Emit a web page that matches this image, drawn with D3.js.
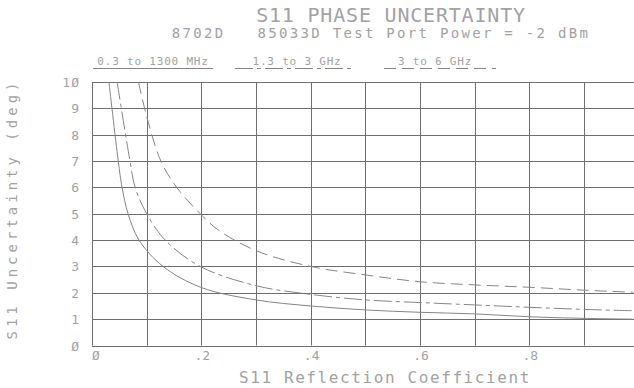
<!DOCTYPE html>
<html><head><meta charset="utf-8">
<script src="https://cdn.jsdelivr.net/npm/d3@7"></script>
<style>
html,body{margin:0;padding:0;background:#fff;}
svg{display:block;}
text{font-family:"DejaVu Sans Mono","Liberation Mono",monospace;fill:#a2a2a2;}
</style></head>
<body>
<svg id="c" width="634" height="388"></svg>
<script>
const title = "S11 PHASE UNCERTAINTY";
const subtitle = "8702D   85033D Test Port Power = -2 dBm";
const xLabel = "S11 Reflection Coefficient";
const yLabel = "S11 Uncertainty (deg)";
const seriesNames = ["0.3 to 1300 MHz", "1.3 to 3 GHz", "3 to 6 GHz"];
const yTicks = [0,1,2,3,4,5,6,7,8,9,10];
const xGrid = [0,0.1,0.2,0.3,0.4,0.5,0.6,0.7,0.8,0.9,1.0];
const xTickLabels = [[0,"Ø"],[0.2,".2"],[0.4,".4"],[0.6,".6"],[0.8,".8"]];

// series 1: 0.3 to 1300 MHz (solid)
const s1x = [0.031,0.048,0.055,0.066,0.086,0.13,0.2,0.3,0.4,0.5,0.6,0.7,0.8,0.9,0.99];
const s1y = [10,7,6,5,4,3,2.2,1.73,1.5,1.35,1.26,1.2,1.09,1.03,1.0];
// series 2: 1.3 to 3 GHz (dash-dot)
const s2x = [0.046,0.0695,0.079,0.1,0.134,0.198,0.3,0.4,0.5,0.6,0.7,0.8,0.9,0.99];
const s2y = [10,7,6,5,4,3,2.27,1.94,1.73,1.63,1.54,1.45,1.37,1.32];
// series 3: 3 to 6 GHz (dashed)
const s3x = [0.085,0.1,0.126,0.155,0.198,0.23,0.3,0.4,0.5,0.6,0.7,0.8,0.9,0.99];
const s3y = [10,8.7,7,6,5,4.4,3.6,3.0,2.68,2.42,2.3,2.21,2.1,2.02];

const svg = d3.select("#c");
const x = d3.scaleLinear().domain([0,1]).range([92,638.7]);
const y = d3.scaleLinear().domain([0,10]).range([345.5,82]);
const right = 634;

const gridColor = "#6e6e6e";
const lineColor = "#858585";

// grid
svg.append("g").selectAll("line").data(yTicks).join("line")
  .attr("x1", x(0)).attr("x2", right)
  .attr("y1", d=>Math.round(y(d))+0.5).attr("y2", d=>Math.round(y(d))+0.5)
  .attr("stroke", gridColor).attr("stroke-width",1);
svg.append("g").selectAll("line").data(xGrid).join("line")
  .attr("x1", d=>Math.round(x(d))+0.5).attr("x2", d=>Math.round(x(d))+0.5)
  .attr("y1", y(10)).attr("y2", y(0))
  .attr("stroke", gridColor).attr("stroke-width",1);

// y tick labels
svg.append("g").selectAll("text").data(yTicks).join("text")
  .attr("x", 80).attr("y", d=>y(d)+5)
  .attr("text-anchor","end").attr("font-size",13).attr("letter-spacing",1)
  .text(d=>String(d).replace(/0/g,"Ø"));
// x tick labels
svg.append("g").selectAll("text").data(xTickLabels).join("text")
  .attr("x", d=>x(d[0]) + (d[0]===0?4:1)).attr("y", 360)
  .attr("text-anchor","middle").attr("font-size",13)
  .text(d=>d[1]);

// curves
const line = d3.line().x(d=>x(d[0])).y(d=>y(d[1])).curve(d3.curveCatmullRom.alpha(0.5));
const series = [
  {xs:s1x, ys:s1y, dash:null},
  {xs:s2x, ys:s2y, dash:"18,4,4,4"},
  {xs:s3x, ys:s3y, dash:"12,6"}
];
svg.append("defs").append("clipPath").attr("id","pc").append("rect")
  .attr("x",x(0)).attr("y",y(10)).attr("width",right-x(0)).attr("height",y(0)-y(10));
svg.append("g").attr("clip-path","url(#pc)").selectAll("path").data(series).join("path")
  .attr("d", s=>line(s.xs.map((v,i)=>[v,s.ys[i]])))
  .attr("fill","none").attr("stroke",lineColor).attr("stroke-width",1)
  .attr("stroke-dasharray", s=>s.dash);

// titles
svg.append("text").attr("x",391).attr("y",22).attr("text-anchor","middle")
  .attr("font-size",20).attr("letter-spacing",0.8).text(title);
svg.append("text").attr("x",381).attr("y",38).attr("text-anchor","middle")
  .attr("font-size",14).attr("letter-spacing",2.3).style("white-space","pre").text(subtitle);

// legend
const legend = [
  {tx:153, x1:93, x2:213, dash:null},
  {tx:297, x1:235, x2:355, dash:"18,4,4,4"},
  {tx:435, x1:384, x2:496, dash:"12,6"}
];
legend.forEach((l,i)=>{
  svg.append("text").attr("x",l.tx).attr("y",65).attr("text-anchor","middle")
    .attr("font-size",11).attr("letter-spacing",0.8).text(seriesNames[i]);
  svg.append("line").attr("x1",l.x1).attr("x2",l.x2).attr("y1",68.5).attr("y2",68.5)
    .attr("stroke",lineColor).attr("stroke-width",1).attr("stroke-dasharray",l.dash);
});

// axis labels
svg.append("text").attr("x",385).attr("y",383).attr("text-anchor","middle")
  .attr("font-size",16).attr("letter-spacing",1.6).text(xLabel);
svg.append("text").attr("transform","translate(17,209) rotate(-90)").attr("text-anchor","middle")
  .attr("font-size",14).attr("letter-spacing",4).text(yLabel);
</script>
</body></html>
